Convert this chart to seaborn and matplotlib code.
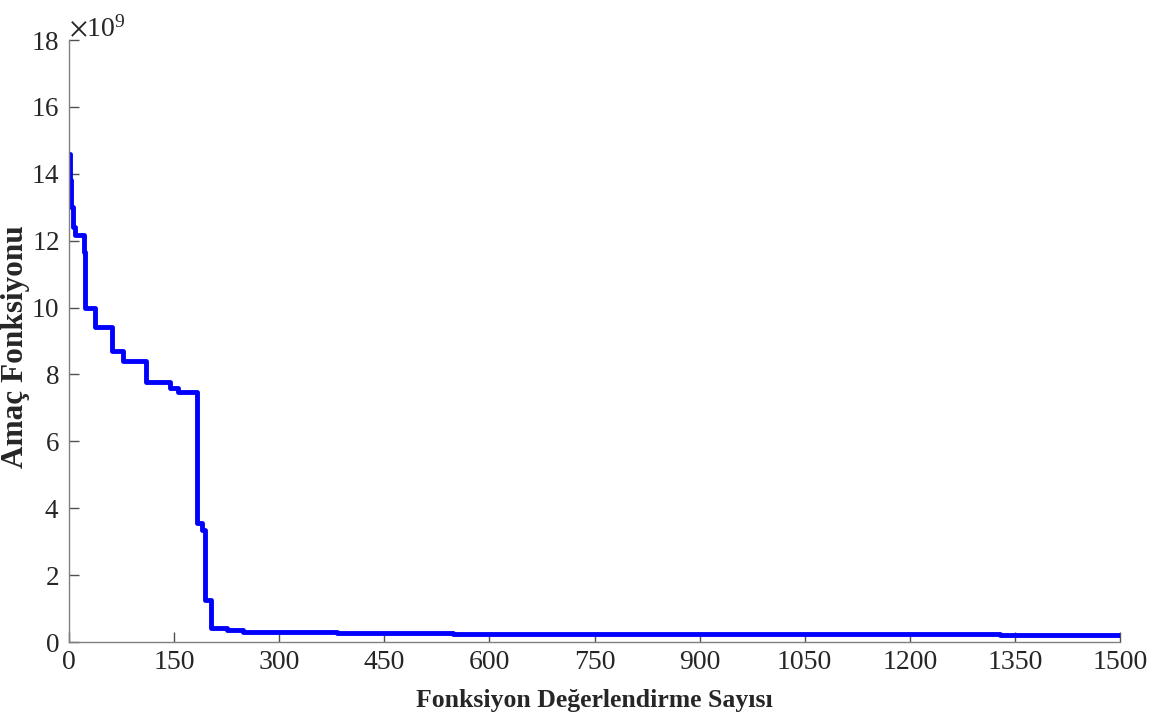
import matplotlib
matplotlib.use("Agg")
import matplotlib.pyplot as plt
import seaborn as sns
import pandas as pd
from matplotlib.ticker import ScalarFormatter

# Best objective value found so far vs. number of function evaluations
evals = [0, 1, 3, 5, 8, 21, 23, 37, 62, 77, 110, 144, 156, 182, 190, 194,
         202, 225, 249, 330, 382, 525, 548, 1019, 1329, 1428, 1500]
best = [14.6, 13.8, 13.0, 12.4, 12.17, 11.67, 9.98, 9.43, 8.71, 8.40, 7.78,
        7.59, 7.49, 3.55, 3.35, 1.26, 0.41, 0.36, 0.31, 0.29, 0.28, 0.27,
        0.25, 0.24, 0.22, 0.21, 0.21]
best = [v * 1e9 for v in best]

x_ticks = list(range(0, 1501, 150))
y_ticks = [v * 1e9 for v in range(0, 19, 2)]

sns.set_theme(style="white")
plt.rcParams["font.family"] = ["Liberation Serif", "DejaVu Serif"]
plt.rcParams["mathtext.fontset"] = "stix"

df = pd.DataFrame({"evals": evals, "best": best})

fig = plt.figure(figsize=(11.58, 7.26), dpi=100)
ax = fig.add_axes([0.0596, 0.1157, 0.9076, 0.8292])

sns.lineplot(data=df, x="evals", y="best", ax=ax, color="#0000ff",
             linewidth=3.5, drawstyle="steps-post", estimator=None, sort=False)

ax.set_xlim(0, 1500)
ax.set_ylim(0, 18e9)
ax.set_xticks(x_ticks)
ax.set_yticks(y_ticks)

# fixed exponent: labels in units of 10^9
fmt = ScalarFormatter(useMathText=True)
fmt.set_powerlimits((9, 9))
ax.yaxis.set_major_formatter(fmt)
offset = ax.yaxis.get_offset_text()
offset.set_fontsize(20)
offset.set_color("#262626")

for side in ["top", "right"]:
    ax.spines[side].set_visible(False)
for side in ["left", "bottom"]:
    ax.spines[side].set_color("#808080")
    ax.spines[side].set_linewidth(1.0)

ax.tick_params(axis="both", direction="in", length=7, width=1.0,
               color="#505050", labelcolor="#262626",
               left=True, bottom=True)
ax.tick_params(axis="x", labelsize=20, pad=6)
ax.tick_params(axis="y", labelsize=19.5, pad=7)

ax.set_xlabel("Fonksiyon Değerlendirme Sayısı", fontsize=18.5,
              fontweight="bold", color="#262626")
ax.set_ylabel("Amaç Fonksiyonu", fontsize=22.5, fontweight="bold",
              color="#262626")
ax.xaxis.set_label_coords(0.5, -0.078)
ax.yaxis.set_label_coords(-0.037, 0.49)

fig.savefig("out.png", dpi=100, facecolor="white")
